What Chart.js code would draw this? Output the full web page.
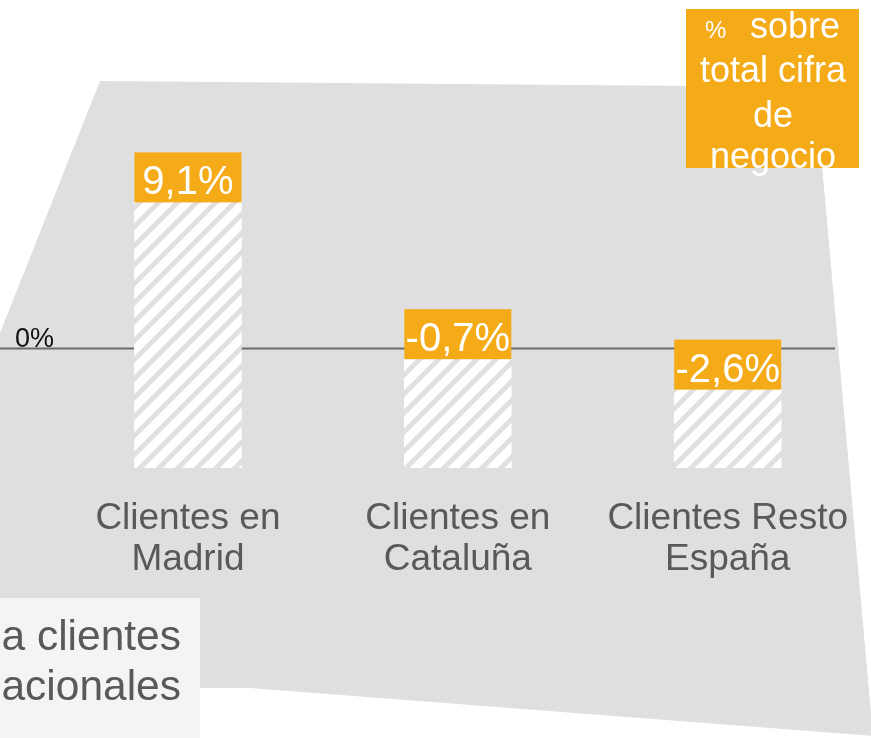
<!DOCTYPE html>
<html><head><meta charset="utf-8">
<script src="https://cdn.jsdelivr.net/npm/chart.js@4/dist/chart.umd.min.js"></script>
<style>html,body{margin:0;padding:0;background:#fff;overflow:hidden}#wrap{position:relative;width:871px;height:738px}</style>
</head><body><div id="wrap"><canvas id="c" width="871" height="738"></canvas></div>
<script>
// ---- data ----
const categories = [["Clientes en", "Madrid"], ["Clientes en", "Cataluña"], ["Clientes Resto", "España"]];
const values = [9.1, -0.7, -2.6];
const valueLabels = ["9,1%", "-0,7%", "-2,6%"];
const barBase = -7.5;
const zeroLabel = "0%";
const legendPct = "%";
const legendLines = ["sobre", "total cifra", "de", "negocio"];
const sideLines = ["a clientes", "acionales"];

// ---- styles ----
const FONT = "'Liberation Sans', Arial, Helvetica, sans-serif";
const ORANGE = "#f5ab17";
const BG_GRAY = "#dfdfdf";
const TEXT_GRAY = "#595959";

const canvas = document.getElementById('c');
const ctx0 = canvas.getContext('2d');
// hatch pattern
const tile = document.createElement('canvas');
const P = 19;
tile.width = P; tile.height = P;
const tc = tile.getContext('2d');
tc.fillStyle = '#ffffff'; tc.fillRect(0, 0, P, P);
tc.strokeStyle = '#e0e0e0'; tc.lineWidth = 5;
tc.beginPath();
tc.moveTo(0, P); tc.lineTo(P, 0);
tc.moveTo(-P / 2, P / 2); tc.lineTo(P / 2, -P / 2);
tc.moveTo(P / 2, 1.5 * P); tc.lineTo(1.5 * P, P / 2);
tc.stroke();
const hatch = ctx0.createPattern(tile, 'repeat');

const decoPlugin = {
  id: 'deco',
  beforeDraw(chart) {
    const ctx = chart.ctx;
    ctx.save();
    ctx.fillStyle = '#ffffff';
    ctx.fillRect(0, 0, chart.width, chart.height);
    ctx.fillStyle = BG_GRAY;
    ctx.beginPath();
    ctx.moveTo(100, 81);
    ctx.lineTo(815, 87);
    ctx.lineTo(873, 736);
    ctx.lineTo(250, 688);
    ctx.lineTo(0, 688);
    ctx.lineTo(0, 333);
    ctx.closePath();
    ctx.fill();
    ctx.restore();
  },
  beforeDatasetsDraw(chart) {
    const ctx = chart.ctx;
    const y = Math.round(chart.scales.y.getPixelForValue(0)) + 0.5;
    ctx.save();
    ctx.strokeStyle = '#6b6b6b';
    ctx.lineWidth = 2;
    ctx.beginPath();
    ctx.moveTo(0, y); ctx.lineTo(835, y);
    ctx.stroke();
    ctx.fillStyle = '#111111';
    ctx.font = "27px " + FONT;
    ctx.textAlign = 'left';
    ctx.textBaseline = 'alphabetic';
    ctx.fillText(zeroLabel, 15, y - 2);
    ctx.restore();
  },
  afterDatasetsDraw(chart) {
    const ctx = chart.ctx;
    const meta = chart.getDatasetMeta(0);
    ctx.save();
    meta.data.forEach((el, i) => {
      const top = Math.min(el.y, el.base);
      const w = el.width;
      ctx.fillStyle = ORANGE;
      ctx.fillRect(el.x - w / 2, top - 50, w, 50);
      ctx.fillStyle = '#ffffff';
      ctx.font = "40px " + FONT;
      ctx.textAlign = 'center';
      ctx.textBaseline = 'alphabetic';
      ctx.fillText(valueLabels[i], el.x, top - 8);
    });
    ctx.restore();
  },
  afterDraw(chart) {
    const ctx = chart.ctx;
    ctx.save();
    // legend box
    ctx.fillStyle = ORANGE;
    ctx.fillRect(686, 9, 173, 159);
    ctx.fillStyle = '#ffffff';
    ctx.textBaseline = 'alphabetic';
    ctx.textAlign = 'left';
    ctx.font = "24px " + FONT;
    ctx.fillText(legendPct, 705, 38);
    ctx.font = "36px " + FONT;
    ctx.fillText(legendLines[0], 750, 38);
    ctx.textAlign = 'center';
    ctx.fillText(legendLines[1], 773, 82);
    ctx.fillText(legendLines[2], 773, 127);
    ctx.fillText(legendLines[3], 773, 168);
    // side box
    ctx.fillStyle = '#f4f4f4';
    ctx.fillRect(0, 598, 200, 140);
    ctx.fillStyle = TEXT_GRAY;
    ctx.font = "42.5px " + FONT;
    ctx.textAlign = 'right';
    ctx.fillText(sideLines[0], 181, 650);
    ctx.fillText(sideLines[1], 181, 700);
    ctx.restore();
  }
};

new Chart(canvas, {
  type: 'bar',
  data: {
    labels: categories,
    datasets: [{
      data: values.map(v => [barBase, v]),
      backgroundColor: hatch,
      borderWidth: 0,
      barThickness: 107
    }]
  },
  options: {
    responsive: false,
    devicePixelRatio: 1,
    animation: false,
    layout: { padding: { left: 53, right: 6, top: 0, bottom: 0 } },
    plugins: { legend: { display: false }, tooltip: { enabled: false } },
    scales: {
      x: {
        grid: { display: false },
        border: { display: false },
        ticks: {
          color: TEXT_GRAY,
          font: { family: FONT, size: 37, lineHeight: '41px' },
          padding: 22,
          maxRotation: 0,
          autoSkip: false
        },
        afterFit(s) { s.height = 270; }
      },
      y: { display: false, min: -7.5, max: 21.75 }
    }
  },
  plugins: [decoPlugin]
});
</script>
</body></html>
